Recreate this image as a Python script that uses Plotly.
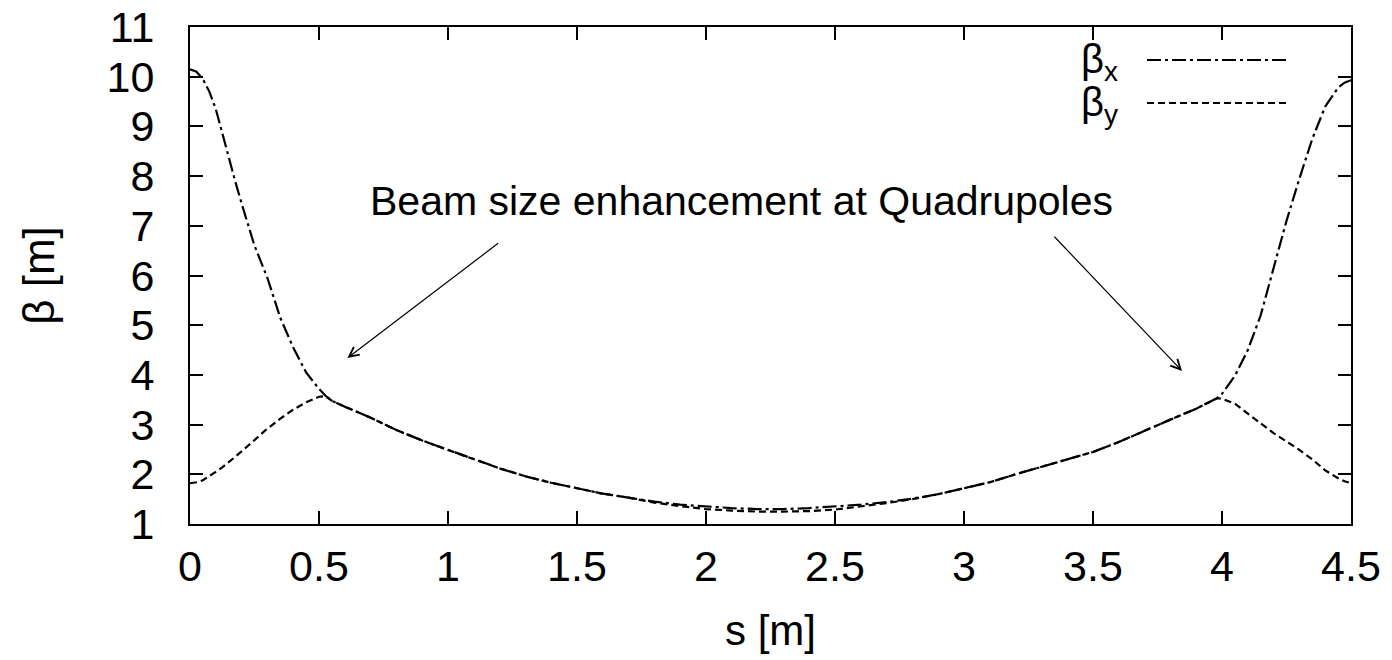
import plotly.graph_objects as go

# ---- data ----
s_m = [0, 0.025, 0.05, 0.075, 0.1, 0.125, 0.15, 0.175, 0.2, 0.25, 0.3, 0.35, 0.4, 0.45,
       0.5, 0.525, 0.55, 0.6, 0.7, 0.8, 0.9, 1.0, 1.1, 1.2, 1.3, 1.4, 1.5, 1.6, 1.7, 1.8,
       1.9, 2.0, 2.1, 2.2, 2.3, 2.4, 2.5, 2.6, 2.7, 2.8, 2.9, 3.0, 3.1, 3.2, 3.3, 3.4,
       3.5, 3.6, 3.7, 3.8, 3.9, 3.95, 3.98, 4.0, 4.05, 4.1, 4.15, 4.2, 4.25, 4.3, 4.35,
       4.4, 4.45, 4.475, 4.5]

beta_x = [10.15, 10.1, 9.95, 9.7, 9.35, 8.85, 8.35, 7.9, 7.45, 6.6, 5.95, 5.15, 4.55, 4.05,
          3.72, 3.58, 3.48, 3.36, 3.14, 2.89, 2.68, 2.49, 2.3, 2.12, 1.96, 1.83, 1.72, 1.61, 1.53, 1.45,
          1.39, 1.35, 1.32, 1.30, 1.30, 1.32, 1.35, 1.39, 1.44, 1.51, 1.6, 1.72, 1.84, 2.0, 2.15, 2.3,
          2.45, 2.65, 2.88, 3.1, 3.32, 3.45, 3.53, 3.62, 3.98, 4.5, 5.2, 6.15, 7.1, 7.95, 8.75,
          9.4, 9.78, 9.88, 9.93]

beta_y = [1.82, 1.84, 1.88, 1.96, 2.05, 2.14, 2.24, 2.35, 2.46, 2.7, 2.92, 3.12, 3.3, 3.45,
          3.56, 3.57, 3.48, 3.36, 3.14, 2.89, 2.68, 2.49, 2.3, 2.12, 1.96, 1.83, 1.72, 1.61, 1.53, 1.43,
          1.36, 1.30, 1.27, 1.25, 1.25, 1.26, 1.29, 1.35, 1.42, 1.50, 1.6, 1.72, 1.84, 2.0, 2.15, 2.3,
          2.45, 2.65, 2.88, 3.1, 3.32, 3.45, 3.53, 3.52, 3.42, 3.22, 3.02, 2.83, 2.66, 2.49, 2.3,
          2.08, 1.92, 1.86, 1.82]

series_names = ["β<sub>x</sub>", "β<sub>y</sub>"]
x_ticks = [0, 0.5, 1, 1.5, 2, 2.5, 3, 3.5, 4, 4.5]
y_ticks = [1, 2, 3, 4, 5, 6, 7, 8, 9, 10, 11]

# annotation arrows (head / tail in data units)
arrow_left = dict(head=(0.61, 4.34), tail=(1.20, 6.67))
arrow_right = dict(head=(3.845, 4.08), tail=(3.345, 6.81))

FONT = "Liberation Sans, Arial, sans-serif"
DASH_X = "14px,4px,3px,4px"
DASH_Y = "7px,4px"

fig = go.Figure()
fig.add_trace(go.Scatter(x=s_m, y=beta_x, mode="lines", name=series_names[0],
                         line=dict(color="black", width=2.2, dash=DASH_X)))
fig.add_trace(go.Scatter(x=s_m, y=beta_y, mode="lines", name=series_names[1],
                         line=dict(color="black", width=2.2, dash=DASH_Y)))

axis_common = dict(showgrid=False, zeroline=False, showline=True, linecolor="black",
                   linewidth=2, mirror="allticks", ticks="inside", ticklen=13,
                   tickwidth=1.5, tickcolor="black", automargin=False,
                   tickfont=dict(family=FONT, size=43, color="black"))

fig.update_xaxes(range=[0, 4.5], tickvals=x_ticks, ticklabelstandoff=3,
                 title=dict(text="s [m]", font=dict(family=FONT, size=42, color="black"), standoff=27),
                 **axis_common)
fig.update_yaxes(range=[1, 11], tickvals=y_ticks, ticklabelstandoff=25,
                 title=dict(text="β [m]", font=dict(family=FONT, size=44, color="black"), standoff=38),
                 **axis_common)

W, H = 1392, 660
L, R, T, B = 190, 41, 27, 136
pw, ph = W - L - R, H - T - B

# text annotation
fig.add_annotation(x=(741 - L) / pw, y=1 - (201 - T) / ph, xref="paper", yref="paper",
                   xanchor="center", yanchor="middle",
                   text="Beam size enhancement at Quadrupoles", showarrow=False,
                   font=dict(family=FONT, size=41, color="black"))
for a in (arrow_left, arrow_right):
    fig.add_annotation(x=a["head"][0], y=a["head"][1], xref="x", yref="y",
                       ax=a["tail"][0], ay=a["tail"][1], axref="x", ayref="y",
                       text="", showarrow=True, arrowhead=5, arrowsize=1.6,
                       arrowwidth=1.2, arrowcolor="black")

# custom legend (text on left, sample line on right, as in the original)
legend_rows = [(60, 62, DASH_X), (103, 105, DASH_Y)]
for name, (py, ty, dash) in zip(series_names, legend_rows):
    fig.add_annotation(x=(1120 - L) / pw, y=1 - (ty - T) / ph, xref="paper", yref="paper",
                       xanchor="right", yanchor="middle", text=name, showarrow=False,
                       font=dict(family=FONT, size=40, color="black"))
    fig.add_shape(type="line", xref="paper", yref="paper",
                  x0=(1147 - L) / pw, x1=(1286 - L) / pw,
                  y0=1 - (py - T) / ph, y1=1 - (py - T) / ph,
                  line=dict(color="black", width=2.2, dash=dash))

fig.update_layout(width=W, height=H, autosize=False,
                  margin=dict(l=L, r=R, t=T, b=B, pad=0, autoexpand=False),
                  paper_bgcolor="white", plot_bgcolor="white",
                  showlegend=False, font=dict(family=FONT, color="black"))

fig.write_html("out.html")
